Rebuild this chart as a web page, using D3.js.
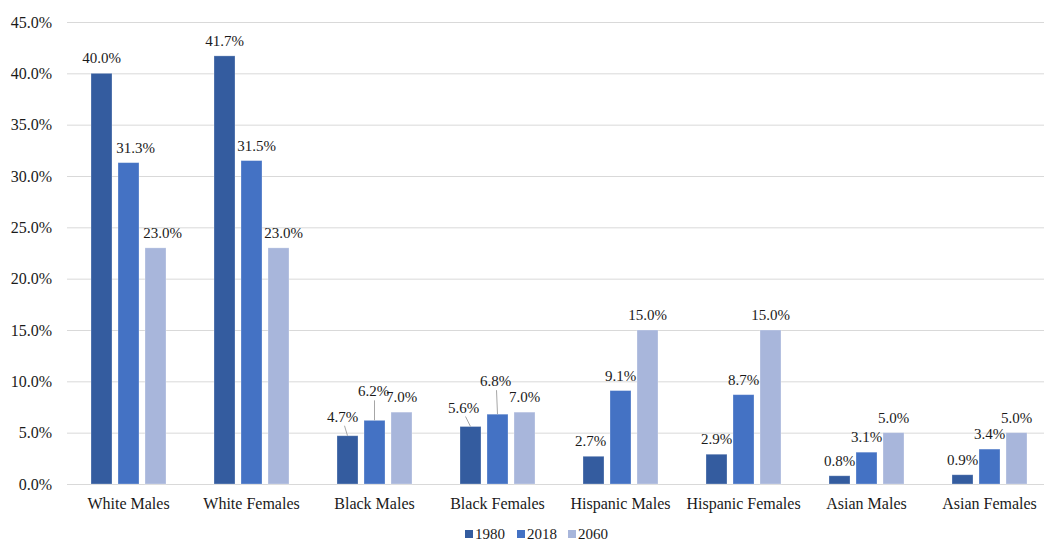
<!DOCTYPE html>
<html>
<head>
<meta charset="utf-8">
<script src="https://cdn.jsdelivr.net/npm/d3@7"></script>
<style>
  html, body { margin: 0; padding: 0; background: #fff; }
  svg { display: block; }
</style>
</head>
<body>
<svg id="chart" width="1044" height="541"></svg>
<script>
// Share of population by group, in percent
const categories = ["White Males", "White Females", "Black Males", "Black Females",
                    "Hispanic Males", "Hispanic Females", "Asian Males", "Asian Females"];
const years = ["1980", "2018", "2060"];
const values1980 = [40.0, 41.7, 4.7, 5.6, 2.7, 2.9, 0.8, 0.9];
const values2018 = [31.3, 31.5, 6.2, 6.8, 9.1, 8.7, 3.1, 3.4];
const values2060 = [23.0, 23.0, 7.0, 7.0, 15.0, 15.0, 5.0, 5.0];
const yTicks = [0, 5, 10, 15, 20, 25, 30, 35, 40, 45];

const seriesValues = { "1980": values1980, "2018": values2018, "2060": values2060 };
const colors = { "1980": "#345C9F", "2018": "#4472C4", "2060": "#A8B6DB" };
const FONT = "'Liberation Serif', 'DejaVu Serif', serif";

// Labels moved off their default spot; the ones lifted clearly get a leader line
const labelNudge = {
  "White Males|2018":   { dx: 7, dy: 0 },
  "White Males|2060":   { dx: 7, dy: 0 },
  "White Females|2018": { dx: 5, dy: 0 },
  "White Females|2060": { dx: 5, dy: 0 },
  "Black Males|1980":   { dx: -5, dy: -4 },
  "Black Males|2018":   { dx: -1, dy: -14 },
  "Black Females|1980": { dx: -7, dy: -4 },
  "Black Females|2018": { dx: -2, dy: -18 },
  "Hispanic Males|1980": { dx: -3, dy: 0 }
};

const svg = d3.select("#chart");
const margin = { left: 67, right: 1044, top: 22, bottom: 484 };

const x = d3.scaleBand().domain(categories).range([margin.left, 1051]);
const xInner = d3.scaleBand().domain(years).range([-37.5, 37.5]).paddingInner(6 / 27);
const y = d3.scaleLinear().domain([0, 45]).range([margin.bottom, margin.top]);

// Gridlines
svg.append("g")
  .selectAll("line")
  .data(yTicks)
  .join("line")
  .attr("x1", margin.left)
  .attr("x2", margin.right)
  .attr("y1", d => y(d) + 0.5)
  .attr("y2", d => y(d) + 0.5)
  .attr("stroke", "#d9d9d9")
  .attr("stroke-width", 1);

// Y axis labels
const yAxis = d3.axisLeft(y).tickValues(yTicks).tickSize(0).tickPadding(0)
  .tickFormat(d => d.toFixed(1) + "%");
const yG = svg.append("g").attr("transform", "translate(52,0)").call(yAxis);
yG.select(".domain").remove();
yG.attr("font-family", FONT).attr("font-size", 16);
yG.selectAll("text")
  .style("font-family", FONT)
  .style("font-size", "16px")
  .attr("fill", "#1a1a1a");

// X axis labels
const xAxis = d3.axisBottom(x).tickSize(0).tickPadding(0);
const xG = svg.append("g").attr("transform", "translate(0,498)").call(xAxis);
xG.select(".domain").remove();
xG.attr("font-family", FONT).attr("font-size", 16);
xG.selectAll("text")
  .style("font-family", FONT)
  .style("font-size", "16px")
  .attr("fill", "#1a1a1a");

// Flattened bar records
const bars = [];
categories.forEach((cat, i) => {
  years.forEach(yr => bars.push({ cat: cat, year: yr, value: seriesValues[yr][i] }));
});
const barX = d => x(d.cat) + x.bandwidth() / 2 + xInner(d.year);

svg.append("g")
  .selectAll("rect")
  .data(bars)
  .join("rect")
  .attr("x", d => barX(d))
  .attr("y", d => y(d.value))
  .attr("width", xInner.bandwidth())
  .attr("height", d => y(0) - y(d.value))
  .attr("fill", d => colors[d.year])
  .attr("stroke", "#ffffff")
  .attr("stroke-opacity", 0.35)
  .attr("stroke-width", 0.8);

// Value labels and leader lines
const labelG = svg.append("g");
bars.forEach(d => {
  const cx = barX(d) + xInner.bandwidth() / 2;
  const top = y(d.value);
  const n = labelNudge[d.cat + "|" + d.year] || { dx: 0, dy: 0 };
  const lx = cx + n.dx;
  const ly = top - 10 + n.dy;
  if (n.dy <= -4) {
    labelG.append("line")
      .attr("x1", lx + (n.dx < -3 ? 2 : 1))
      .attr("y1", ly + 4)
      .attr("x2", cx)
      .attr("y2", top)
      .attr("stroke", "#a6a6a6")
      .attr("stroke-width", 1);
  }
  labelG.append("text")
    .attr("x", lx)
    .attr("y", ly)
    .attr("text-anchor", "middle")
    .style("font-family", FONT)
    .style("font-size", "15px")
    .attr("fill", "#1a1a1a")
    .text(d.value.toFixed(1) + "%");
});

// Legend
const legendItems = [
  { year: "1980", x: 465 },
  { year: "2018", x: 517 },
  { year: "2060", x: 568 }
];
const lg = svg.append("g");
legendItems.forEach(it => {
  lg.append("rect")
    .attr("x", it.x).attr("y", 530)
    .attr("width", 8).attr("height", 8)
    .attr("fill", colors[it.year]);
  lg.append("text")
    .attr("x", it.x + 10).attr("y", 539)
    .style("font-family", FONT)
    .style("font-size", "15px")
    .attr("fill", "#1a1a1a")
    .text(it.year);
});
</script>
</body>
</html>
